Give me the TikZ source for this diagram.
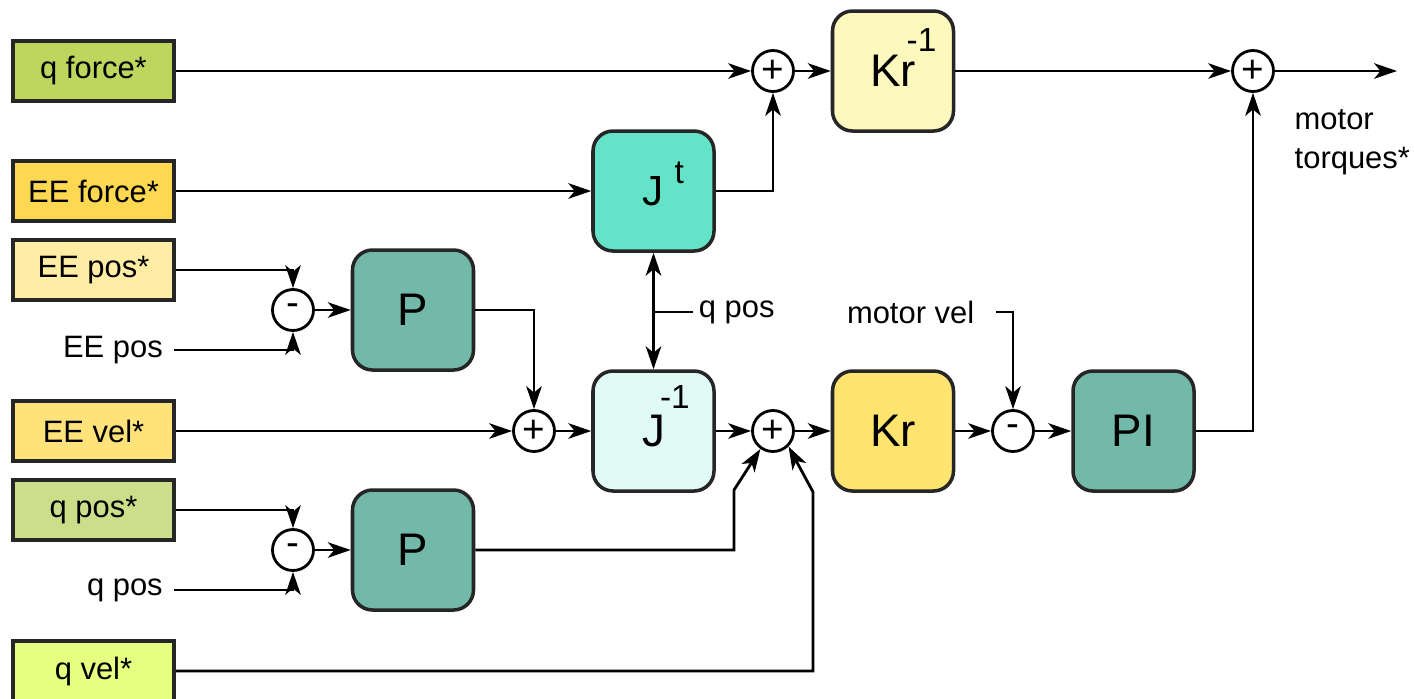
\documentclass[tikz,border=0pt]{standalone}
\usepackage{fontspec}
\setmainfont{Liberation Sans}
\usetikzlibrary{positioning, arrows.meta, calc}

\definecolor{qforceC}{HTML}{BED65E}
\definecolor{eeforceC}{HTML}{FFD852}
\definecolor{eeposC}{HTML}{FFEDA6}
\definecolor{eevelC}{HTML}{FFE27A}
\definecolor{qposC}{HTML}{CDDE8A}
\definecolor{qvelC}{HTML}{E5FF80}
\definecolor{kinvC}{HTML}{FCF8BE}
\definecolor{jtC}{HTML}{64E3C8}
\definecolor{pC}{HTML}{72B9A9}
\definecolor{jinvC}{HTML}{E0FAF5}
\definecolor{krC}{HTML}{FFE470}

% raised index that takes no room
\newcommand{\upidx}[3]{\rlap{\smash{\hspace{#1}\raisebox{#2}{\fontsize{9.5}{10}\selectfont #3}}}}

\begin{document}
\begin{tikzpicture}[
    font=\fontsize{8.8}{10.5}\selectfont,
    arrow/.style={-{Stealth[length=6.5pt, width=4.4pt, inset=1.8pt]}, line width=0.8pt},
    dblarrow/.style={{Stealth[length=6.5pt, width=4.4pt, inset=1.8pt]}-{Stealth[length=6.5pt, width=4.4pt, inset=1.8pt]}, line width=0.8pt},
    wire/.style={line width=0.8pt},
    inbox/.style={draw=black!85, line width=1pt, minimum width=1.61cm, minimum height=0.60cm, inner sep=0pt},
    block/.style={draw=black!85, line width=1pt, rounded corners=0.2cm, minimum width=1.21cm, minimum height=1.2cm, inner sep=0pt, font=\fontsize{13}{15}\selectfont},
    junction/.style={circle, draw, line width=0.8pt, minimum size=0.41cm, inner sep=0pt, font=\fontsize{11}{11}\selectfont},
    sig/.style={inner sep=3pt}
]
\useasboundingbox (0,0) rectangle (14.14,-6.98);

% Inputs
\node[inbox, fill=qforceC] (qforce) at (0.935,-0.71) {q force*};
\node[inbox, fill=eeforceC] (eeforce) at (0.935,-1.91) {EE force*};
\node[inbox, fill=eeposC] (eepos) at (0.935,-2.70) {EE pos*};
\node[inbox, fill=eevelC] (eevel) at (0.935,-4.31) {EE vel*};
\node[inbox, fill=qposC] (qpos) at (0.935,-5.10) {q pos*};
\node[inbox, fill=qvelC] (qvel) at (0.935,-6.71) {q vel*};

% Measured signals
\node[sig, anchor=east] (eeposlab) at (1.74,-3.50) {EE pos};
\node[sig, anchor=east] (qposlab) at (1.74,-5.90) {q pos};
\node[sig, inner xsep=1.5pt, anchor=west] (qposmid) at (6.93,-3.12) {q pos};
\node[sig, inner xsep=6pt, anchor=east] (motorvel) at (9.96,-3.12) {motor vel};
\node[anchor=north west, align=left, inner sep=0pt, font=\fontsize{8.8}{11.1}\selectfont] (torques) at (12.94,-1.09) {motor\\torques*};

% Summing points
\node[junction] (diffEE) at (2.93,-3.10) {-};
\node[junction] (diffq) at (2.93,-5.50) {-};
\node[junction] (sumKi) at (7.73,-0.71) {+};
\node[junction] (sumout) at (12.53,-0.71) {+};
\node[junction] (sumEE) at (5.34,-4.31) {+};
\node[junction] (sumv) at (7.73,-4.31) {+};
\node[junction] (diffm) at (10.13,-4.31) {-};

% Blocks
\node[block, fill=kinvC] (Kinv) at (8.93,-0.71) {Kr\upidx{-2.6pt}{10pt}{-1}};
\node[block, fill=jtC] (Jt) at (6.535,-1.91) {\fontsize{12}{14}\selectfont J\upidx{3pt}{6.3pt}{t}};
\node[block, fill=pC] (PEE) at (4.13,-3.10) {P};
\node[block, fill=jinvC] (Jinv) at (6.535,-4.31) {J\upidx{-1.4pt}{10.8pt}{-1}};
\node[block, fill=krC] (Kr) at (8.93,-4.31) {Kr};
\node[block, fill=pC] (PI) at (11.335,-4.31) {PI};
\node[block, fill=pC] (Pq) at (4.13,-5.50) {P};

% Bends and output end
\coordinate (bendP) at (7.34,-4.90);
\coordinate (bendV) at (8.13,-4.92);
\coordinate (outend) at (13.97,-0.71);

% Force path
\draw[arrow] (qforce) -- (sumKi);
\draw[arrow] (sumKi) -- (Kinv);
\draw[arrow] (Kinv) -- (sumout);
\draw[arrow] (sumout) -- (outend);
\draw[arrow] (eeforce) -- (Jt);
\draw[arrow] (Jt.east) -| (sumKi.south);

% EE position and velocity
\draw[arrow] (eepos.east) -| (diffEE.north);
\draw[arrow] (eeposlab.east) -| (diffEE.south);
\draw[arrow] (diffEE) -- (PEE);
\draw[arrow] (PEE.east) -| (sumEE.north);
\draw[arrow] (eevel) -- (sumEE);
\draw[arrow] (sumEE) -- (Jinv);
\draw[dblarrow] (Jt) -- (Jinv);
\draw[wire] (qposmid.west) -- (qposmid.west -| Jt.south);

% Joint position and velocity
\draw[arrow] (qpos.east) -| (diffq.north);
\draw[arrow] (qposlab.east) -| (diffq.south);
\draw[arrow] (diffq) -- (Pq);
\draw[arrow] (Jinv) -- (sumv);
\draw[arrow] (Pq.east) -| (bendP) -- (sumv.235);
\draw[arrow] (qvel.east) -| (bendV) -- (sumv.-45);

% Motor loop
\draw[arrow] (sumv) -- (Kr);
\draw[arrow] (Kr) -- (diffm);
\draw[arrow] (motorvel.east) -| (diffm.north);
\draw[arrow] (diffm) -- (PI);
\draw[arrow] (PI.east) -| (sumout.south);

\end{tikzpicture}
\end{document}
